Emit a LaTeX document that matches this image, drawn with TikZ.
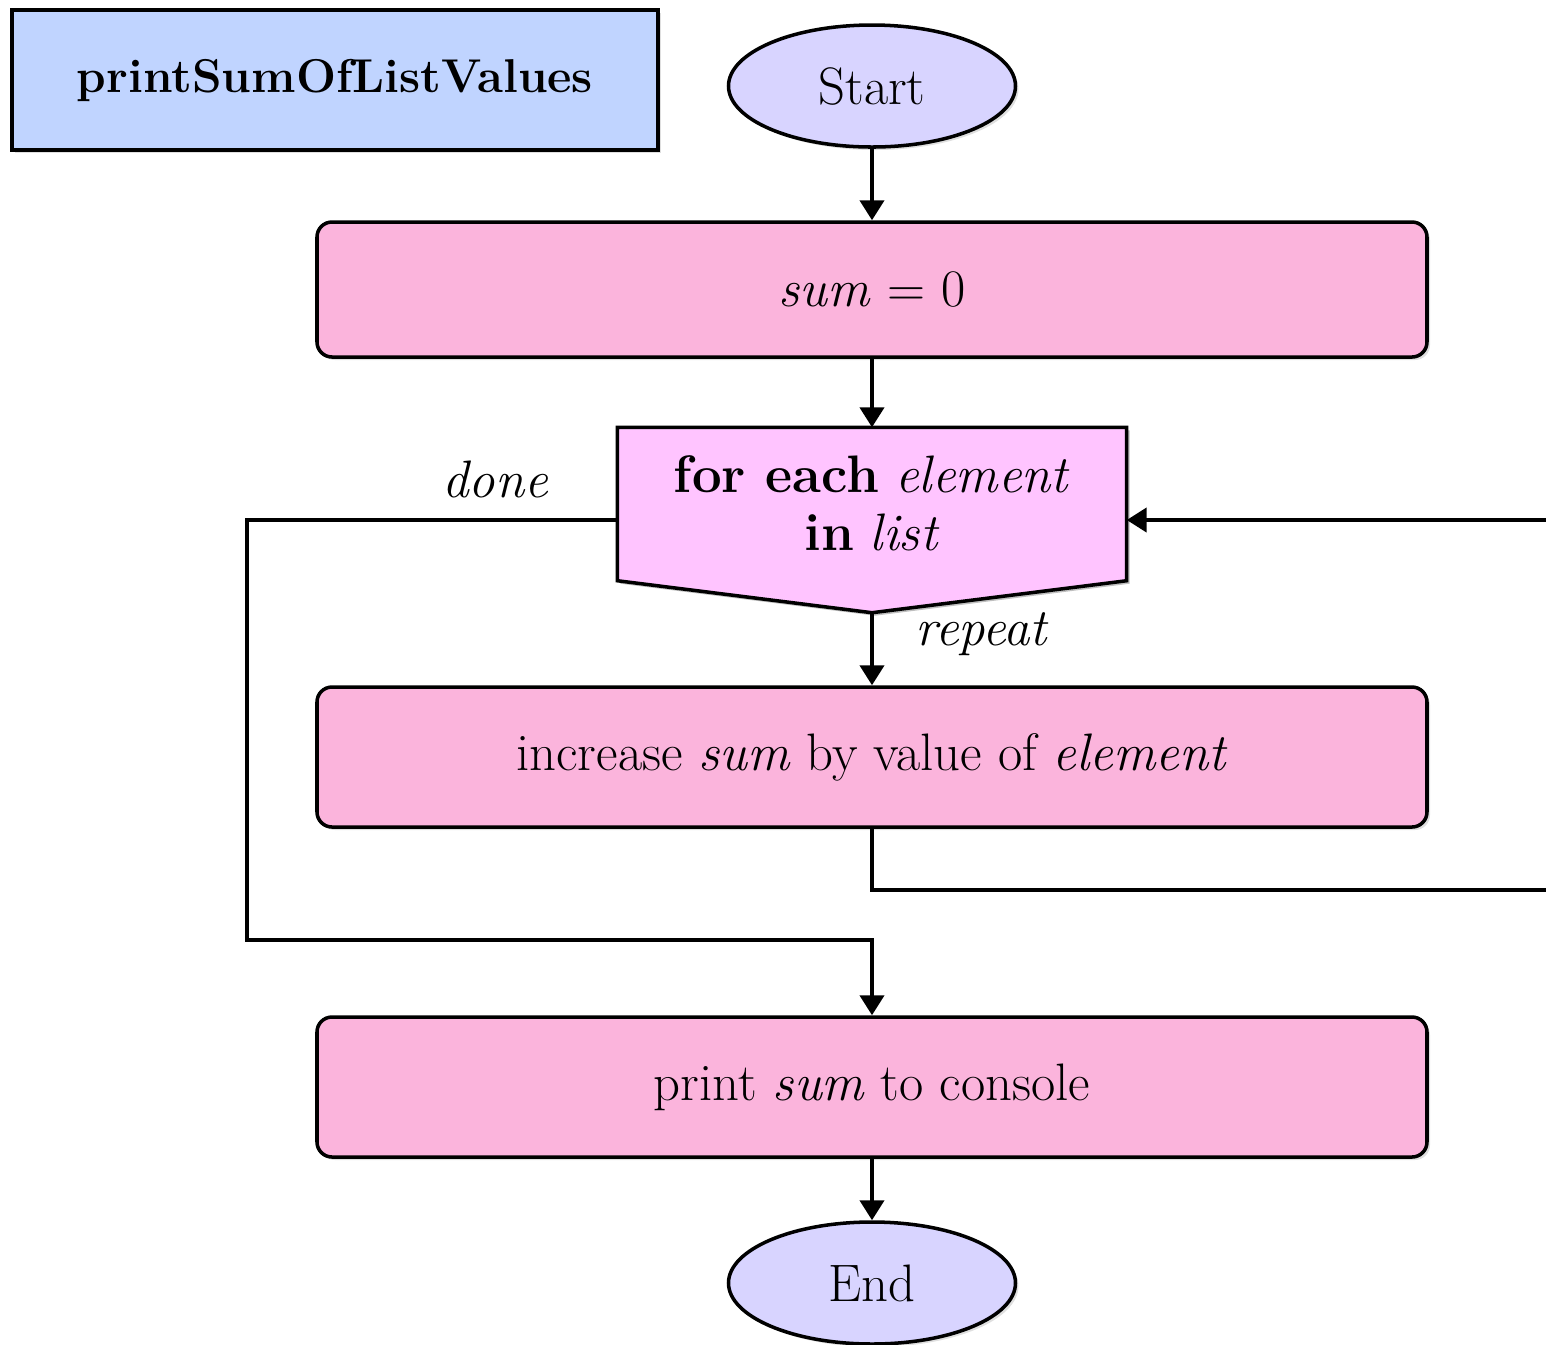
\documentclass[tikz,border=0pt]{standalone}
\usetikzlibrary{arrows.meta,calc,shapes.geometric,shadows}
\definecolor{titleblue}{HTML}{C0D4FF}
\definecolor{termlilac}{HTML}{D8D4FF}
\definecolor{steppink}{HTML}{FBB4DC}
\definecolor{looppink}{HTML}{FFC4FF}
\begin{document}
\begin{tikzpicture}
		\tikzstyle{every node} = [font = \fontsize{15}{16.5}\selectfont]
		\tikzstyle{flow} = [line width = 1.2pt, -{Triangle[length=.2cm,width=.24cm]}]
		\tikzstyle{term} = [ellipse, draw, line width = 1pt, fill = termlilac, minimum width = 2.87cm, minimum height = 1.22cm, drop shadow = {opacity = .25, shadow xshift = .03cm, shadow yshift = -.03cm}]
		\tikzstyle{stepbox} = [rectangle, rounded corners = .15cm, draw, line width = 1pt, fill = steppink, minimum width = 11.1cm, minimum height = 1.4cm, drop shadow = {opacity = .25, shadow xshift = .03cm, shadow yshift = -.03cm}]
		\useasboundingbox (0,0) rectangle (15.46,-13.44);

		\node[draw, line width = 1pt, fill = titleblue, minimum width = 6.46cm, minimum height = 1.4cm, font = \fontsize{13.5}{16}\selectfont\bfseries, drop shadow = {opacity = .25, shadow xshift = .03cm, shadow yshift = -.03cm}] (title) at (3.35,-.80) {printSumOfListValues};
		\node[term] (start) at (8.72,-.86) {Start};
		\node[stepbox, minimum height = 1.35cm] (sum) at (8.72,-2.895) {\itshape sum \upshape = 0};
		\node[minimum width = 5.08cm, minimum height = 1.84cm, inner sep = 0] (loop) at (8.72,-5.20) {};
		\node[stepbox] (incr) at (8.72,-7.57) {increase \textit{sum} by value of \textit{element}};
		\node[stepbox] (print) at (8.72,-10.87) {print \textit{sum} to console};
		\node[term] (end) at (8.72,-12.83) {End};

		% the loop box, cut to a point below
		\fill[black, opacity = .25] ($(loop.north west)+(.03,-.03)$) -- ($(loop.north east)+(.03,-.03)$) -- ($(loop.south east)+(.03,.29)$) -- ($(loop.south)+(.03,-.03)$) -- ($(loop.south west)+(.03,.29)$) -- cycle;
		\draw[line width = 1pt, fill = looppink] (loop.north west) -- (loop.north east) -- ($(loop.south east)+(0,.32)$) -- (loop.south) -- ($(loop.south west)+(0,.32)$) -- cycle;
		\node[align = center] (looptext) at ($(loop)+(0,.17)$) {\textbf{for each} \textit{element}\\\textbf{in} \textit{list}};

		\draw[flow] (start) -- (sum);
		\draw[flow] (sum) -- (loop);
		\draw[flow] (loop.south) -- node[right, pos = .3, xshift = .3cm] (repeat) {\itshape repeat} (incr);
		\draw[flow] (print) -- (end);
		\draw[flow] (incr.south) |- (15.7,-8.90) |- (loop.east); %back to the loop
		\draw[flow] (loop.west) -- node[above, pos = .33, yshift = .08cm] (done) {\itshape done} ++(-3.70,0) |- ($(print.north)+(0,.75)$) -- (print.north); %done
	\end{tikzpicture}
\end{document}
